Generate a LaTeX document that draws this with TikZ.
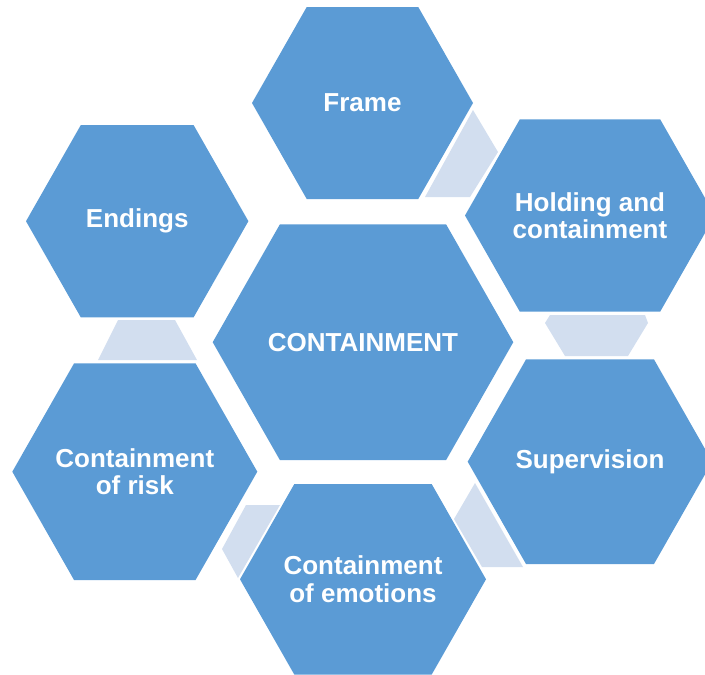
\documentclass[tikz,border=0pt]{standalone}
\usepackage{fontspec}
\setmainfont{Liberation Sans}
\definecolor{hexblue}{HTML}{5B9BD5}
\definecolor{linkblue}{HTML}{D2DEEF}
\tikzset{hexlabel/.style={text=white,font=\bfseries\fontsize{26}{27.5}\selectfont,align=center,inner sep=0pt},
hexfill/.style={fill=hexblue},
linkfill/.style={fill=linkblue}}

\begin{document}
\begin{tikzpicture}[x=1pt,y=-1pt]
 \useasboundingbox (0,0) rectangle (705,675);
 \clip (0,0) rectangle (705,675);
 % hexagons: centre x / centre y / half width / half height / name / text
 \foreach\cx/\cy/\hw/\hh/\nm/\txt in {%
  362.5/103/110.5/96/frame/Frame,
  590/215.5/125/96.2/holding/{Holding and\\containment},
  137.2/221.2/111.2/96.2/endings/Endings,
  363/342.2/150.3/117.9/centre/CONTAINMENT,
  134.8/471.7/122.5/108.3/risk/{Containment\\of risk},
  590/461.7/122.3/102.3/supervision/Supervision,
  363/579.3/123/95.3/emotions/{Containment\\of emotions}}
 {\fill[hexfill] (\cx-\hw,\cy) -- (\cx-\hw+0.57*\hh,\cy-\hh) -- (\cx+\hw-0.57*\hh,\cy-\hh)
   -- (\cx+\hw,\cy) -- (\cx+\hw-0.57*\hh,\cy+\hh) -- (\cx-\hw+0.57*\hh,\cy+\hh) -- cycle;
  \node[hexlabel] (\nm) at (\cx,\cy) {\txt};}
 %
 \fill[linkfill] (473,110) -- (498,152) -- (470,197) -- (425,197) -- cycle;
 \fill[linkfill] (550,315) -- (645,315) -- (648,323) -- (628,356) -- (565,356) -- (545,323) -- cycle;
 \fill[linkfill] (475,483) -- (454,519) -- (482,567) -- (523,567) -- cycle;
 \fill[linkfill] (246,505) -- (280,505) -- (238,578) -- (222,549) -- cycle;
 \fill[linkfill] (118,320) -- (175,320) -- (197,360) -- (98,360) -- cycle;
\end{tikzpicture}
\end{document}
